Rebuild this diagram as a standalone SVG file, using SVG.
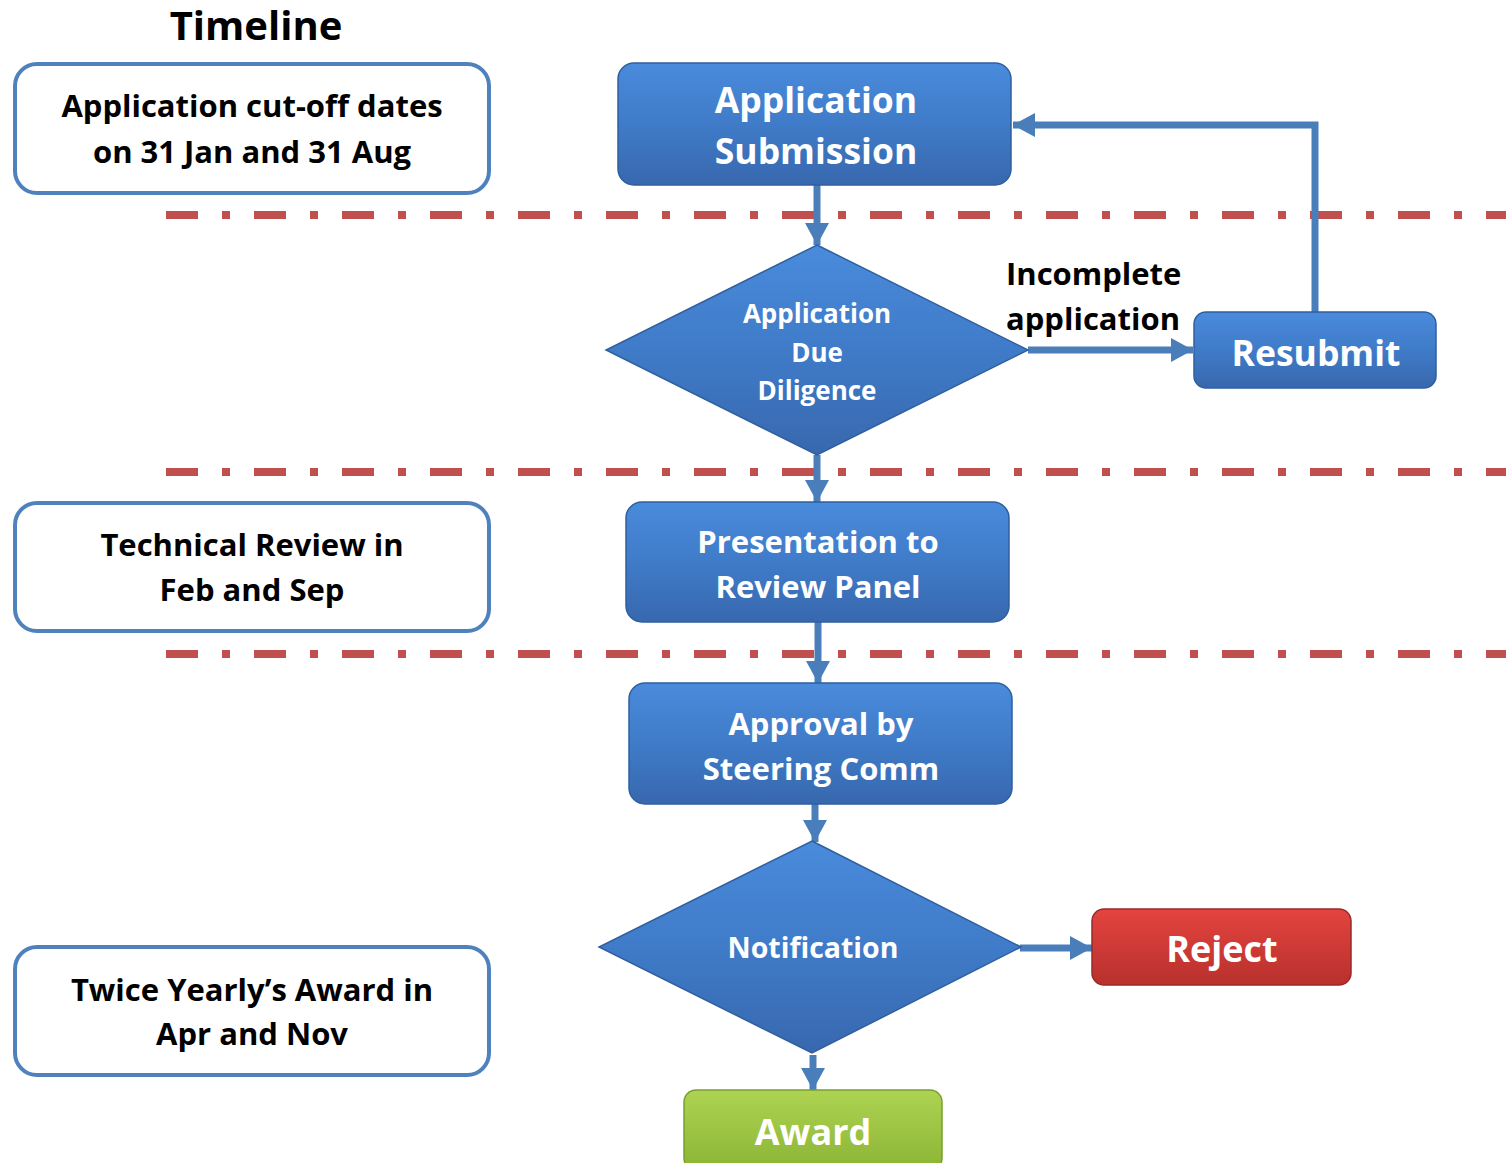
<svg xmlns="http://www.w3.org/2000/svg" width="1506" height="1163" viewBox="0 0 1506 1163">
<defs>
<linearGradient id="gBlue" x1="0" y1="0" x2="0" y2="1">
<stop offset="0" stop-color="#4A8BDC"/><stop offset="0.5" stop-color="#3F7BC8"/><stop offset="1" stop-color="#3868AE"/>
</linearGradient>
<linearGradient id="gRed" x1="0" y1="0" x2="0" y2="1">
<stop offset="0" stop-color="#E4443F"/><stop offset="1" stop-color="#B8302D"/>
</linearGradient>
<linearGradient id="gGreen" x1="0" y1="0" x2="0" y2="1">
<stop offset="0" stop-color="#AED352"/><stop offset="1" stop-color="#8CB535"/>
</linearGradient>
<marker id="arr" markerUnits="userSpaceOnUse" markerWidth="24" markerHeight="24" refX="22" refY="12" orient="auto">
<path d="M0,0 L22,12 L0,24 Z" fill="#4A7EBB"/>
</marker>
<style>
.sep{stroke:#C0504D;stroke-width:8;stroke-dasharray:32 24 8 24;fill:none}
.info{fill:#fff;stroke:#4F81BD;stroke-width:4}
.bn{fill:url(#gBlue);stroke:#2F5F9E;stroke-width:1.5}
.rn{fill:url(#gRed);stroke:#9A2A27;stroke-width:1.5}
.gn{fill:url(#gGreen);stroke:#7A9E2E;stroke-width:1.5}
.t{font-family:"Open Sans","Noto Sans",sans-serif;font-weight:bold;text-anchor:middle}
.s{text-anchor:start}
.w{fill:#fff}
.k{fill:#000}
.c{stroke:#4A7EBB;stroke-width:7;fill:none}
</style>
</defs>
<g id="separators">
<line class="sep" x1="166" y1="215" x2="1506" y2="215"/>
<line class="sep" x1="166" y1="472" x2="1506" y2="472"/>
<line class="sep" x1="166" y1="654" x2="1506" y2="654"/>
</g>
<g id="timeline-title"><text class="t k" x="256" y="40" font-size="40">Timeline</text></g>
<g id="info-cutoff">
<rect class="info" x="15" y="64" width="474" height="129" rx="22"/>
<text class="t k" x="252" y="117" font-size="31">Application cut-off dates</text>
<text class="t k" x="252" y="163" font-size="31">on 31 Jan and 31 Aug</text>
</g>
<g id="info-review">
<rect class="info" x="15" y="503" width="474" height="128" rx="22"/>
<text class="t k" x="252" y="556" font-size="31">Technical Review in</text>
<text class="t k" x="252" y="601" font-size="31">Feb and Sep</text>
</g>
<g id="info-award">
<rect class="info" x="15" y="947" width="474" height="128" rx="22"/>
<text class="t k" x="252" y="1001" font-size="31">Twice Yearly’s Award in</text>
<text class="t k" x="252" y="1045" font-size="31">Apr and Nov</text>
</g>
<g id="connectors">
<line class="c" x1="817" y1="185" x2="817" y2="245" marker-end="url(#arr)"/>
<line class="c" x1="817" y1="455" x2="817" y2="502" marker-end="url(#arr)"/>
<line class="c" x1="818" y1="622" x2="818" y2="683" marker-end="url(#arr)"/>
<line class="c" x1="815" y1="804" x2="815" y2="842" marker-end="url(#arr)"/>
<line class="c" x1="813" y1="1055" x2="813" y2="1090" marker-end="url(#arr)"/>
<line class="c" x1="1020" y1="948" x2="1092" y2="948" marker-end="url(#arr)"/>
<line class="c" x1="1028" y1="350" x2="1193" y2="350" marker-end="url(#arr)"/>
<polyline class="c" points="1315,312 1315,125 1013,125" marker-end="url(#arr)"/>
</g>
<g id="label-incomplete">
<text class="t k s" x="1006" y="285" font-size="31">Incomplete</text>
<text class="t k s" x="1006" y="330" font-size="31">application</text>
</g>
<g id="node-submission">
<rect class="bn" x="618" y="63" width="393" height="122" rx="16"/>
<text class="t w" x="816" y="113" font-size="35.5">Application</text>
<text class="t w" x="816" y="164" font-size="35.5">Submission</text>
</g>
<g id="node-duediligence">
<polygon class="bn" points="817,245 1028,350 817,455 606,350"/>
<text class="t w" x="817" y="323" font-size="26">Application</text>
<text class="t w" x="817" y="362" font-size="26">Due</text>
<text class="t w" x="817" y="400" font-size="26">Diligence</text>
</g>
<g id="node-resubmit">
<rect class="bn" x="1194" y="312" width="242" height="76" rx="12"/>
<text class="t w" x="1316" y="366" font-size="35.5">Resubmit</text>
</g>
<g id="node-presentation">
<rect class="bn" x="626" y="502" width="383" height="120" rx="16"/>
<text class="t w" x="818" y="553" font-size="31">Presentation to</text>
<text class="t w" x="818" y="598" font-size="31">Review Panel</text>
</g>
<g id="node-approval">
<rect class="bn" x="629" y="683" width="383" height="121" rx="16"/>
<text class="t w" x="821" y="735" font-size="31">Approval by</text>
<text class="t w" x="821" y="780" font-size="31">Steering Comm</text>
</g>
<g id="node-notification">
<polygon class="bn" points="812,841 1021,947 812,1053 599,947"/>
<text class="t w" x="813" y="958" font-size="28.5">Notification</text>
</g>
<g id="node-reject">
<rect class="rn" x="1092" y="909" width="259" height="76" rx="12"/>
<text class="t w" x="1222" y="962" font-size="36">Reject</text>
</g>
<g id="node-award">
<rect class="gn" x="684" y="1090" width="258" height="80" rx="12"/>
<text class="t w" x="813" y="1145" font-size="36">Award</text>
</g>
</svg>
